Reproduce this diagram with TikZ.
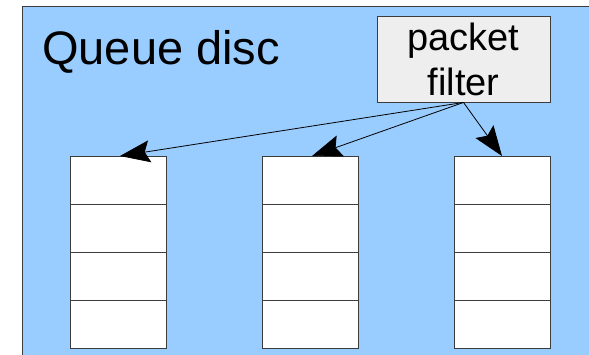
\documentclass[tikz,border=0pt]{standalone}
\usepackage{fontspec}
\setmainfont{Liberation Sans}
\usetikzlibrary{arrows.meta}
\definecolor{panelblue}{RGB}{153,204,255}
\definecolor{filtergray}{RGB}{238,238,238}
\definecolor{edgegray}{RGB}{60,60,60}
\tikzset{
  slot/.style={draw=edgegray, fill=white, line width=0.9pt, minimum width=96pt, minimum height=48pt, inner sep=0pt, outer sep=0pt},
  filterbox/.style={draw=edgegray, fill=filtergray, line width=0.9pt, minimum width=173pt, minimum height=86pt, inner sep=0pt, align=center, font=\fontsize{38}{45}\selectfont},
  route/.style={line width=0.8pt, -{Stealth[length=30pt, width=22pt, inset=5pt]}}
}
\begin{document}
\begin{tikzpicture}[x=1pt, y=-1pt]
  \useasboundingbox (0,0) rectangle (589,355);
  % queue discipline panel
  \fill[panelblue] (22,7) rectangle (592,358);
  \draw[edgegray, line width=1pt] (22,358) -- (22,7) -- (592,7);
  \node[anchor=base west, inner sep=0pt, font=\fontsize{47}{56}\selectfont] (title) at (42,65) {Queue disc};
  % classifier
  \node[filterbox] (pf) at (463.5,59) {packet\\filter};
  % three queues, four slots each
  \foreach \q/\cx in {1/118, 2/310, 3/502} {
    \foreach \r in {0,1,2,3} {
      \node[slot] (q\q s\r) at (\cx, 180+48*\r) {};
    }
  }
  % routing from the filter to each queue
  \draw[route] (pf.south) -- ([xshift=2pt]q1s0.north);
  \draw[route] (pf.south) -- ([xshift=2pt]q2s0.north);
  \draw[route] (pf.south) -- (q3s0.north);
\end{tikzpicture}
\end{document}
